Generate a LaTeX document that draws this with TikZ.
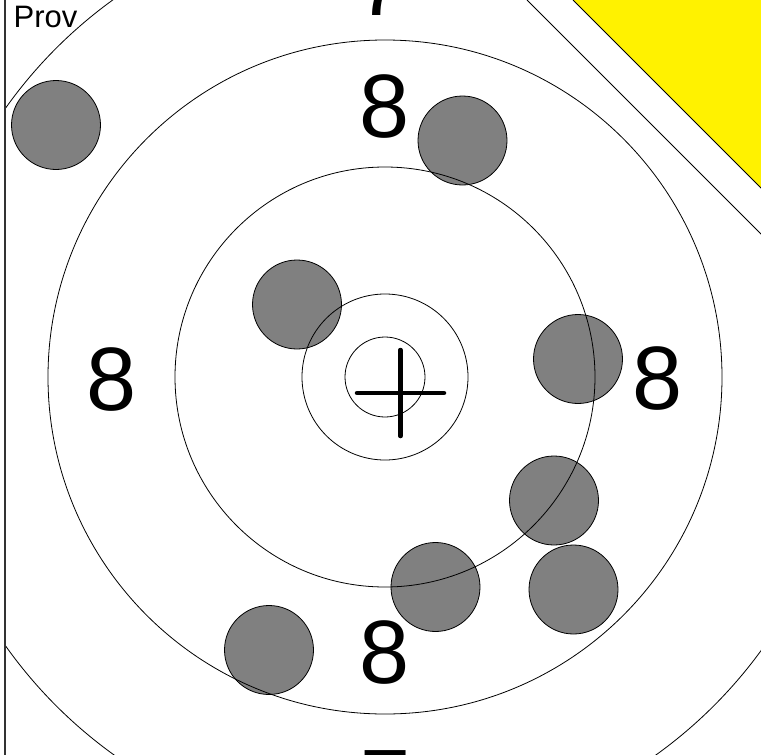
\documentclass[tikz,border=0pt]{standalone}
\usepackage{fontspec}
\setmainfont{Liberation Sans}
\begin{document}
\begin{tikzpicture}[x=1pt,y=-1pt,
  ring/.style={draw=black,line width=0.8pt},
  shot/.style={fill=gray,draw=black,line width=0.8pt},
  bignum/.style={inner sep=0pt,anchor=base,font=\fontsize{90}{90}\selectfont},
  crossline/.style={line width=4.5pt,line cap=round}]
\useasboundingbox[fill=white] (0,0) rectangle (761,755);
\begin{scope}
\clip (5,0) rectangle (761,755);
% shots
\fill[shot] (56,125) circle (44.5);
\fill[shot] (462.5,140.5) circle (44.5);
\fill[shot] (297,304.5) circle (44.5);
\fill[shot] (578,359) circle (44.5);
\fill[shot] (554,500.5) circle (44.5);
\fill[shot] (435.5,587) circle (44.5);
\fill[shot] (573.5,589.5) circle (44.5);
\fill[shot] (269,650) circle (44.5);
% rings
\coordinate (c) at (385,377);
\draw[ring] (c) circle (40);
\draw[ring] (c) circle (83);
\draw[ring] (c) circle (210);
\draw[ring] (c) circle (337);
\draw[ring] (c) circle (465);
% diagonal line and yellow corner
\coordinate (d1) at (527,0);
\coordinate (d2) at (771,244);
\draw[ring] (d1) -- (d2);
\coordinate (y1) at (573,0);
\coordinate (y2) at (771,198);
\fill[yellow] (y1) -- (y2) -- (771,-10) -- (573,-10) -- cycle;
\draw[ring] (y1) -- (y2);
% cross
\coordinate (v1) at (400.5,350);
\coordinate (v2) at (400.5,436);
\coordinate (h1) at (357,393);
\coordinate (h2) at (444,393);
\draw[crossline] (v1) -- (v2);
\draw[crossline] (h1) -- (h2);
% numbers
\node[bignum] (n8t) at (385,137) {8};
\node[bignum] (n8b) at (385,683) {8};
\node[bignum] (n8l) at (111.5,410) {8};
\node[bignum] (n8r) at (658,409.5) {8};
\node[bignum] (n7t) at (382,15) {7};
\node[bignum] (n7b) at (385.5,812) {7};
\node[inner sep=0pt,anchor=base west,font=\fontsize{31}{31}\selectfont] (prov) at (13.5,27) {Prov};
\end{scope}
\coordinate (b1) at (5,0);
\coordinate (b2) at (5,755);
\draw[line width=1.5pt,black!80] (b1) -- (b2);
\end{tikzpicture}
\end{document}
